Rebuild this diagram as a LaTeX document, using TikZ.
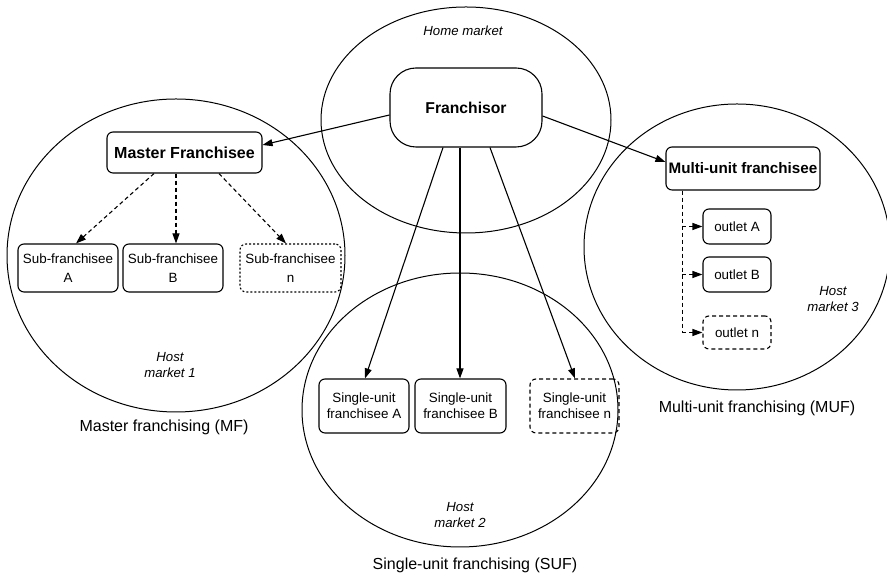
\documentclass[tikz,border=0pt]{standalone}
\usepackage{fontspec}
\setmainfont{Liberation Sans}
\usetikzlibrary{arrows.meta,calc}
\begin{document}
\begin{tikzpicture}[x=1pt,y=1pt,
  line width=1.1pt,
  market/.style={draw,line width=1pt},
  unitbox/.style={draw,rounded corners=6pt,inner sep=0pt,align=center,
    font=\fontsize{13.4}{19}\selectfont},
  headbox/.style={unitbox,font=\fontsize{16}{19}\selectfont\bfseries},
  dotbox/.style={dash pattern=on 2pt off 2pt},
  dashbox/.style={dash pattern=on 4pt off 3pt},
  link/.style={-{Triangle[length=10pt,width=7pt]}},
  dlink/.style={link,dash pattern=on 4pt off 3pt},
  mlabel/.style={font=\fontsize{13.2}{16}\selectfont\itshape,align=center},
  caption/.style={font=\fontsize{16}{19}\selectfont}]
\useasboundingbox (0,0) rectangle (887,577);

% markets
\draw[market] (466,457) ellipse [x radius=145, y radius=113];
\draw[market] (176,321.5) ellipse [x radius=169, y radius=156.5];
\draw[market] (737,330) ellipse [x radius=153, y radius=143];
\draw[market] (460,167) ellipse [x radius=158, y radius=137];

% franchisor
\node[headbox,rounded corners=26pt,minimum width=152pt,minimum height=79pt,
  font=\fontsize{15.7}{19}\selectfont\bfseries] (fr) at (466,469.5) {Franchisor};

% master franchising
\node[headbox,minimum width=155pt,minimum height=41pt] (ms) at (184.5,424.5) {Master Franchisee};
\node[unitbox,minimum width=100pt,minimum height=48pt] (sa) at (68,309) {Sub-franchisee\\A};
\node[unitbox,minimum width=100pt,minimum height=48pt] (sb) at (173,309) {Sub-franchisee\\B};
\node[unitbox,dotbox,minimum width=101pt,minimum height=48pt] (sn) at (290.5,309) {Sub-franchisee\\n};

% multi-unit franchising
\node[headbox,minimum width=154pt,minimum height=43pt,
  font=\fontsize{15.2}{19}\selectfont\bfseries] (mu) at (743,408.5) {Multi-unit franchisee};
\node[unitbox,minimum width=68pt,minimum height=35pt] (oa) at (737,350.5) {outlet A};
\node[unitbox,minimum width=68pt,minimum height=35pt] (ob) at (737,302.5) {outlet B};
\node[unitbox,dashbox,minimum width=68pt,minimum height=33pt] (on) at (737,244.5) {outlet n};

% single-unit franchising
\node[unitbox,minimum width=90pt,minimum height=54pt,
  font=\fontsize{13.4}{15.7}\selectfont] (ua) at (364,171) {Single-unit\\franchisee A};
\node[unitbox,minimum width=91pt,minimum height=54pt,
  font=\fontsize{13.4}{15.7}\selectfont] (ub) at (460.5,171) {Single-unit\\franchisee B};
\node[unitbox,dashbox,minimum width=89pt,minimum height=54pt,
  font=\fontsize{13.4}{15.7}\selectfont] (un) at (574.5,171) {Single-unit\\franchisee n};

% market labels
\node[mlabel] (hm) at (463,546) {Home market};
\node[mlabel] (h1) at (170,212) {Host\\market 1};
\node[mlabel] (h2) at (460,62) {Host\\market 2};
\node[mlabel] (h3) at (833,278) {Host\\market 3};

\node[caption] (c1) at (164,150) {Master franchising (MF)};
\node[caption] (c2) at (475,12) {Single-unit franchising (SUF)};
\node[caption] (c3) at (757,169) {Multi-unit franchising (MUF)};

% franchisor links
\draw[link] ($(fr.west)+(0,-7.5)$) -- ($(ms.east)+(0,7.5)$);
\draw[link] ($(fr.east)+(0,-8.5)$) -- ($(mu.west)+(0,6.5)$);
\draw[link] ($(fr.south)+(-23,0)$) -- ($(ua.north)+(1,0)$);
\draw[link] ($(fr.south)+(-6,0)$) -- ($(ub.north)+(-0.5,0)$);
\draw[link] ($(fr.south)+(24,0)$) -- ($(un.north)+(0.5,0)$);

% master to sub-franchisees
\draw[dlink] ($(ms.south)+(-30.5,0)$) -- ($(sa.north)+(8,0)$);
\draw[dlink] ($(ms.south)+(-8.5,0)$) -- ($(sb.north)+(3,0)$);
\draw[dlink] ($(ms.south)+(34.5,0)$) -- ($(sn.north)+(-4.5,0)$);

% multi-unit to outlets
\coordinate (trunk) at ($(mu.south west)+(17,0)$);
\draw[dash pattern=on 4pt off 3pt] (trunk) -- (trunk |- on.west);
\draw[dlink] (trunk |- oa.west) -- (oa.west);
\draw[dlink] (trunk |- ob.west) -- (ob.west);
\draw[dlink] (trunk |- on.west) -- (on.west);
\end{tikzpicture}
\end{document}
